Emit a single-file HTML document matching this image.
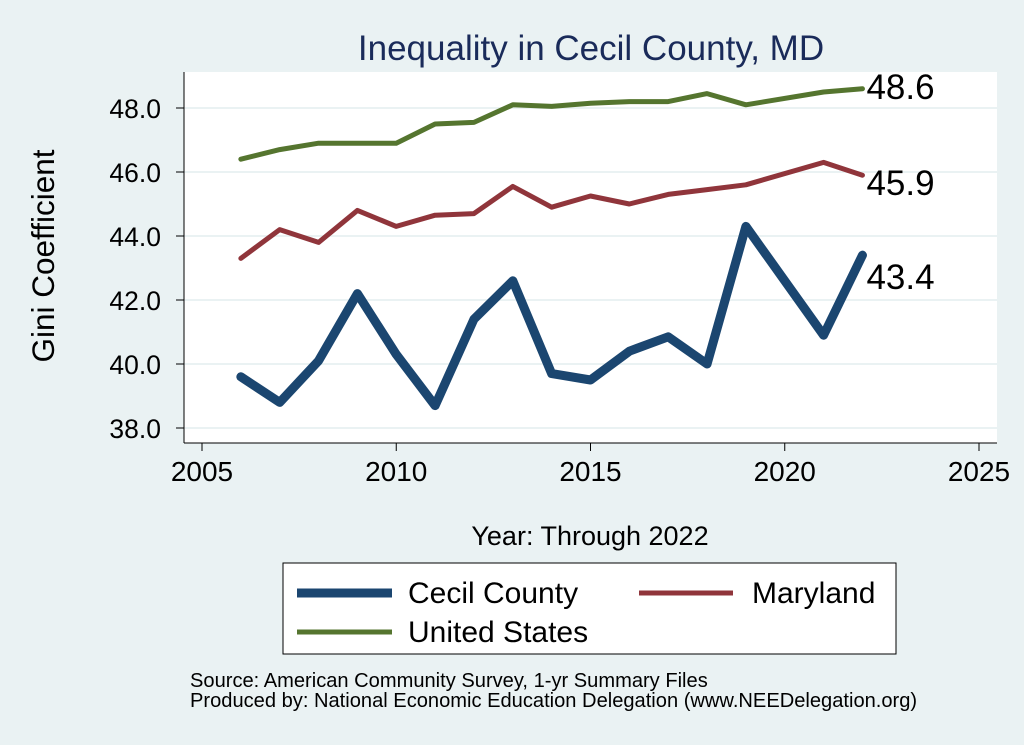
<!DOCTYPE html>
<html><head><meta charset="utf-8"><style>
body{margin:0;background:#eaf2f3;}
svg{display:block;font-family:"Liberation Sans",sans-serif;}
</style></head><body>
<svg width="1024" height="745" viewBox="0 0 1024 745">
<rect width="1024" height="745" fill="#eaf2f3"/>
<rect x="184" y="72" width="813" height="371" fill="#fff"/>
<text x="591" y="60" text-anchor="middle" font-size="35" fill="#1a2b5a">Inequality in Cecil County, MD</text>
<g id="grid"></g><g id="axes"></g><g id="series"></g>
<text transform="translate(54,256) rotate(-90)" text-anchor="middle" font-size="31.5" fill="#000">Gini Coefficient</text>
<text x="590" y="545" text-anchor="middle" font-size="27" fill="#000">Year: Through 2022</text>
<g>
<rect x="283" y="563" width="613" height="91" fill="#fff" stroke="#000" stroke-width="1"/>
<line x1="297" y1="593" x2="392" y2="593" stroke="#1b4670" stroke-width="9"/>
<text x="408" y="603" font-size="30">Cecil County</text>
<line x1="639" y1="593" x2="733" y2="593" stroke="#90353b" stroke-width="5"/>
<text x="752" y="603" font-size="30">Maryland</text>
<line x1="297" y1="632" x2="392" y2="632" stroke="#55752f" stroke-width="5"/>
<text x="408" y="642" font-size="30">United States</text>
</g>
<text x="190" y="687" font-size="20.1">Source: American Community Survey, 1-yr Summary Files</text>
<text x="190" y="707" font-size="20.1">Produced by: National Economic Education Delegation (www.NEEDelegation.org)</text>
</svg>
<script>
const years=[2006,2007,2008,2009,2010,2011,2012,2013,2014,2015,2016,2017,2018,2019,2021,2022];
const cecil=[39.6,38.8,40.1,42.2,40.3,38.7,41.4,42.6,39.7,39.5,40.4,40.85,40.0,44.3,40.9,43.4];
const maryland=[43.3,44.2,43.8,44.8,44.3,44.65,44.7,45.55,44.9,45.25,45.0,45.3,45.45,45.6,46.3,45.9];
const us=[46.4,46.7,46.9,46.9,46.9,47.5,47.55,48.1,48.05,48.15,48.2,48.2,48.45,48.1,48.5,48.6];
const yTicks=[38,40,42,44,46,48];
const xTicks=[2005,2010,2015,2020,2025];
const NS="http://www.w3.org/2000/svg";
const X=v=>202+(v-2005)*38.85, Y=v=>108+(48-v)*32;
function mk(t,a,p){const e=document.createElementNS(NS,t);for(const k in a)e.setAttribute(k,a[k]);p.appendChild(e);return e;}
const grid=document.getElementById('grid'),axes=document.getElementById('axes'),ser=document.getElementById('series');
yTicks.forEach(v=>{
 const g=mk('line',{x1:184,x2:997,y1:Y(v),y2:Y(v),stroke:'#eaf2f3','stroke-width':2},grid);
 
 
 mk('line',{x1:176,x2:184,y1:Y(v),y2:Y(v),stroke:'#000'},axes);
 const t=mk('text',{x:161,y:Y(v)+10,'text-anchor':'end','font-size':26.5},axes);t.textContent=v.toFixed(1);
 
 
});
mk('line',{x1:184,x2:184,y1:72,y2:443,stroke:'#000'},axes);
mk('line',{x1:184,x2:997,y1:443,y2:443,stroke:'#000'},axes);
xTicks.forEach(v=>{
 mk('line',{x1:X(v),x2:X(v),y1:443,y2:451,stroke:'#000'},axes);
 const t=mk('text',{x:X(v),y:481,'text-anchor':'middle','font-size':28},axes);t.textContent=v;
 
 
});
[[cecil,'#1b4670',9,'cecil-line'],[maryland,'#90353b',5,'maryland-line'],[us,'#55752f',5,'us-line']].forEach(([d,c,w,n])=>{
 const p=mk('polyline',{points:years.map((y,i)=>X(y)+','+Y(d[i])).join(' '),fill:'none',stroke:c,'stroke-width':w,'stroke-linejoin':'round','stroke-linecap':'round'},ser);
 
 
 const last=d.length-1;
 const t=mk('text',{x:X(years[last])+4,y:Y(d[last])+(n==='us-line'?-2:n==='cecil-line'?22:8)+12,'font-size':35},ser);
 t.textContent=d[last].toFixed(1);
 
 
});
</script>
</body></html>
